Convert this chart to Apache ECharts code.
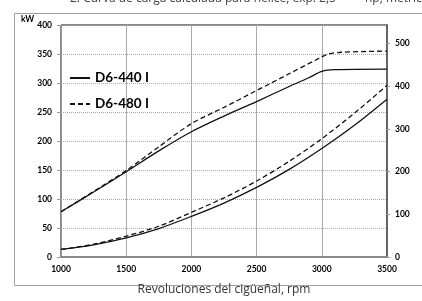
<!DOCTYPE html>
<html>
<head>
<meta charset="utf-8">
<script src="https://cdn.jsdelivr.net/npm/echarts@6/dist/echarts.min.js"></script>
<style>
  html, body { margin: 0; padding: 0; background: #fff; }
  #chart { width: 422px; height: 301px; }
</style>
</head>
<body>
<div id="chart"></div>
<script>
  // curvas de potencia y de carga (kW) por rpm
  const rpmPower440 = [1000, 1250, 1500, 1750, 2000, 2250, 2500, 2750, 2900, 3000, 3100, 3500];
  const power440 = [78, 112, 147, 183, 216, 243, 268, 294, 309, 320, 323, 324];
  const rpmPower480 = [1000, 1250, 1500, 1750, 2000, 2250, 2500, 2750, 3000, 3050, 3150, 3500];
  const power480 = [78, 113, 149, 190, 230, 258, 287, 316, 345, 350, 353, 355];
  const rpmProp = [1000, 1250, 1500, 1750, 2000, 2250, 2500, 2750, 3000, 3250, 3500];
  const prop440 = [13, 21, 33, 49, 70, 93, 120, 151, 187, 227, 272];
  const prop480 = [13, 22, 36, 53, 77, 102, 131, 165, 204, 248, 296];
  const seriesNames = ['D6-440 I', 'D6-480 I'];

  const zip = (xs, ys) => xs.map((x, i) => [x, ys[i]]);
  const labelFont = { color: '#000', fontFamily: 'Lato', fontWeight: 'bold', fontSize: 8.5 };
  const plain = v => String(v);

  const chart = echarts.init(document.getElementById('chart'));
  const option = {
    animation: false,
    grid: {
      left: 61, top: 25, width: 326, height: 244,
      show: true, borderColor: '#111', borderWidth: 1
    },
    graphic: [
      {
        type: 'rect', silent: true, z: -1,
        shape: { x: 14.5, y: 13.5, width: 430, height: 272 },
        style: { fill: 'none', stroke: '#a0a0a0', lineWidth: 1 }
      },
      {
        type: 'text', left: 70, top: -7,
        style: { text: '2. Curva de carga calculada para hélice, exp. 2,5', fontFamily: 'Open Sans', fontSize: 12, fill: '#444' }
      },
      {
        type: 'text', left: 365, top: -7,
        style: { text: 'hp, métrico', fontFamily: 'Open Sans', fontSize: 12, fill: '#444' }
      },
      {
        type: 'text', left: 21, top: 15,
        style: { text: 'kW', fontFamily: 'Lato', fontWeight: 'bold', fontSize: 8.5, fill: '#000' }
      }
    ],
    legend: {
      orient: 'vertical', left: 64, top: 66, itemGap: 12,
      itemWidth: 20, itemHeight: 12,
      itemStyle: { color: 'transparent', borderWidth: 0 },
      textStyle: { fontFamily: 'Lato', fontWeight: 'bold', fontSize: 13.5, color: '#000' },
      data: seriesNames
    },
    xAxis: {
      type: 'value', min: 1000, max: 3500, interval: 500,
      name: 'Revoluciones del cigüeñal, rpm', nameLocation: 'middle', nameGap: 27,
      nameTextStyle: { fontFamily: 'Open Sans', fontSize: 12, color: '#333' },
      axisLine: { lineStyle: { color: '#888', width: 2 } },
      axisTick: { show: false },
      axisLabel: Object.assign({ margin: 8, formatter: plain }, labelFont),
      splitLine: { lineStyle: { color: '#aaa', width: 1 } }
    },
    yAxis: [
      {
        type: 'value', min: 0, max: 400, interval: 50,
        axisLine: { show: true, lineStyle: { color: '#999', width: 1 } },
        axisTick: { show: true, length: 4, lineStyle: { color: '#999' } },
        axisLabel: Object.assign({ margin: 9, formatter: plain }, labelFont),
        splitLine: { lineStyle: { color: '#aaa', type: [1, 1] } }
      },
      {
        type: 'value', min: 0, max: 543.8, interval: 100, position: 'right',
        axisLine: { show: true, lineStyle: { color: '#666', width: 2 } },
        axisTick: { show: true, length: 3, lineStyle: { color: '#999' } },
        axisLabel: Object.assign({ margin: 8, showMaxLabel: false, formatter: plain }, labelFont),
        splitLine: { show: false }
      }
    ],
    series: [
      {
        name: seriesNames[0], type: 'line', symbol: 'none', smooth: 0.3,
        lineStyle: { color: '#111', width: 1.3 },
        itemStyle: { color: '#111' },
        data: zip(rpmPower440, power440)
      },
      {
        name: seriesNames[1], type: 'line', symbol: 'none', smooth: 0.3,
        lineStyle: { color: '#111', width: 1.3, type: [5, 3] },
        itemStyle: { color: '#111' },
        data: zip(rpmPower480, power480)
      },
      {
        name: seriesNames[0], type: 'line', symbol: 'none', smooth: 0.3,
        lineStyle: { color: '#111', width: 1.3 },
        data: zip(rpmProp, prop440)
      },
      {
        name: seriesNames[1], type: 'line', symbol: 'none', smooth: 0.3,
        lineStyle: { color: '#111', width: 1.3, type: [5, 3] },
        data: zip(rpmProp, prop480)
      }
    ]
  };
  chart.setOption(option);
</script>
</body>
</html>
